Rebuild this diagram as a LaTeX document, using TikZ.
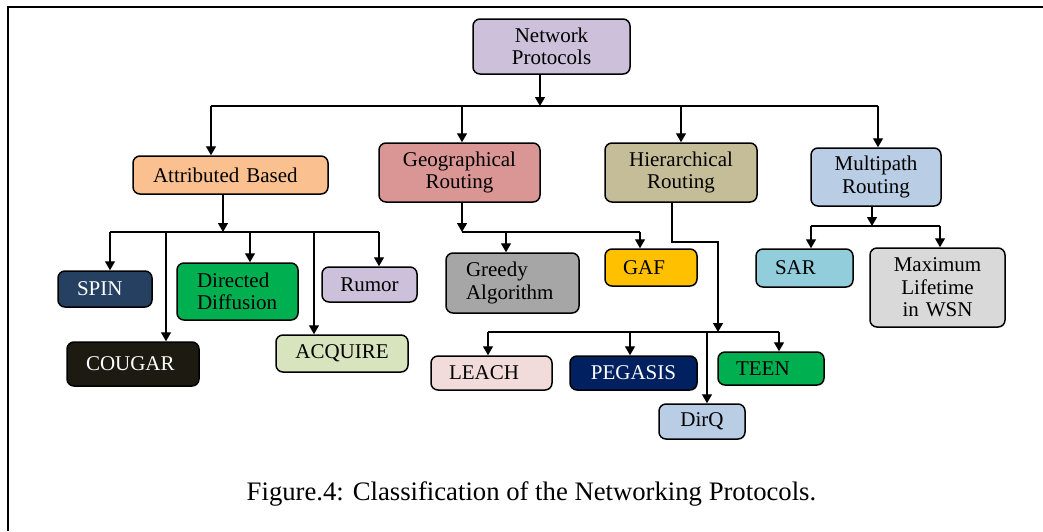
\documentclass[tikz,border=0pt]{standalone}
\usepackage{fontspec}
\setmainfont{Liberation Serif}
\usetikzlibrary{arrows.meta}
\newcommand{\boxfont}{\fontsize{21}{22.5}\selectfont}
\newcommand{\capfont}{\fontsize{26.7}{30}\selectfont}
\definecolor{cnet}{HTML}{CCC0DA}
\definecolor{cattr}{HTML}{FAC090}
\definecolor{cgeo}{HTML}{D99694}
\definecolor{chier}{HTML}{C4BD97}
\definecolor{cmulti}{HTML}{B9CDE5}
\definecolor{cspin}{HTML}{254061}
\definecolor{ccougar}{HTML}{1D1B11}
\definecolor{cgreen}{HTML}{00B050}
\definecolor{cacq}{HTML}{D7E4BD}
\definecolor{cgreedy}{HTML}{A6A6A6}
\definecolor{cgaf}{HTML}{FFC000}
\definecolor{csar}{HTML}{92CDDC}
\definecolor{cmax}{HTML}{D9D9D9}
\definecolor{cleach}{HTML}{F2DCDB}
\definecolor{cpeg}{HTML}{002060}
\begin{document}
\begin{tikzpicture}[x=1pt,y=-1pt,
  box/.style={draw, line width=1.5pt, rounded corners=7pt, font=\boxfont, inner ysep=0pt},
  ctr/.style={align=center, inner xsep=6pt},
  lft/.style={align=left},
  arr/.style={line width=1.4pt, -{Triangle[width=10pt,length=9pt]}},
  ln/.style={line width=1.4pt}]
\useasboundingbox (0,0) rectangle (1043,531);
\draw[line width=1.8pt] (1043,7) -- (8,7) -- (8,531);

% level 0
\node[box,ctr,fill=cnet,minimum width=157pt,minimum height=55pt,text width=145pt] (net) at (551.5,46.5) {Network\\Protocols};

% level 1
\node[box,lft,fill=cattr,minimum width=195pt,minimum height=38pt,inner xsep=20pt,text width=155pt] (attr) at (230.5,175) {Attributed Based};
\node[box,ctr,fill=cgeo,minimum width=161pt,minimum height=59pt,text width=149pt] (geo) at (459.5,172.5) {Geographical\\Routing};
\node[box,ctr,fill=chier,minimum width=152pt,minimum height=59pt,text width=140pt] (hier) at (681,172.5) {Hierarchical\\Routing};
\node[box,ctr,fill=cmulti,minimum width=130pt,minimum height=58pt,text width=118pt] (multi) at (876,177) {Multipath\\Routing};

% attributed children
\node[box,lft,fill=cspin,text=white,minimum width=94pt,minimum height=36pt,inner xsep=19pt,text width=56pt] (spin) at (105,289) {SPIN};
\node[box,lft,fill=ccougar,text=white,minimum width=132pt,minimum height=44pt,inner xsep=19pt,text width=94pt] (cougar) at (133,364) {COUGAR};
\node[box,lft,fill=cgreen,minimum width=121pt,minimum height=57pt,inner xsep=20pt,text width=81pt] (dd) at (237.5,291.5) {Directed\\Diffusion};
\node[box,ctr,fill=cnet,minimum width=95pt,minimum height=35pt,text width=83pt] (rumor) at (369.5,284.5) {Rumor};
\node[box,ctr,fill=cacq,minimum width=132pt,minimum height=37pt,text width=120pt] (acq) at (342,353.5) {ACQUIRE};

% geographical children
\node[box,lft,fill=cgreedy,minimum width=133pt,minimum height=60pt,inner xsep=20pt,text width=93pt] (greedy) at (512.5,283) {Greedy\\Algorithm};
\node[box,lft,fill=cgaf,minimum width=92pt,minimum height=37pt,inner xsep=18pt,text width=56pt] (gaf) at (651,267.5) {GAF};

% multipath children
\node[box,lft,fill=csar,minimum width=97pt,minimum height=38pt,inner xsep=19pt,text width=59pt] (sar) at (804.5,268) {SAR};
\node[box,ctr,fill=cmax,minimum width=135pt,minimum height=79pt,text width=123pt] (maxl) at (937.5,287.5) {Maximum\\Lifetime\\in WSN};

% hierarchical children
\node[box,lft,fill=cleach,minimum width=121pt,minimum height=34pt,inner xsep=18pt,text width=85pt] (leach) at (491.5,373) {LEACH};
\node[box,ctr,fill=cpeg,text=white,minimum width=127pt,minimum height=34pt,text width=115pt] (peg) at (633.5,373) {PEGASIS};
\node[box,lft,fill=cgreen,minimum width=106pt,minimum height=33pt,inner xsep=18pt,text width=70pt] (teen) at (771,368.5) {TEEN};
\node[box,ctr,fill=cmulti,minimum width=86pt,minimum height=35pt,text width=74pt] (dirq) at (702,421.5) {DirQ};

% caption
\node[font=\capfont,anchor=base,inner sep=0pt] (cap) at (531.5,500) {Figure.4: Classification of the Networking Protocols.};

% ---- connectors ----
% top bus
\coordinate (j0) at (540,106);
\coordinate (b0a) at (211,106);
\coordinate (b0b) at (462,106);
\coordinate (b0c) at (681,106);
\coordinate (b0d) at (878,106);
\draw[arr] (net.south -| j0) -- (j0);
\draw[ln] (b0a) -- (b0d);
\draw[arr] (b0a) -- (b0a |- attr.north);
\draw[arr] (b0b) -- (b0b |- geo.north);
\draw[arr] (b0c) -- (b0c |- hier.north);
\draw[arr] (b0d) -- (b0d |- multi.north);

% attributed bus
\coordinate (j1) at (223,232);
\coordinate (b1a) at (110,232);
\coordinate (b1b) at (166,232);
\coordinate (b1c) at (250,232);
\coordinate (b1d) at (314,232);
\coordinate (b1e) at (379,232);
\draw[arr] (attr.south -| j1) -- (j1);
\draw[ln] (b1a) -- (b1e);
\draw[arr] (b1a) -- (b1a |- spin.north);
\draw[arr] (b1b) -- (b1b |- cougar.north);
\draw[arr] (b1c) -- (b1c |- dd.north);
\draw[arr] (b1d) -- (b1d |- acq.north);
\draw[arr] (b1e) -- (b1e |- rumor.north);

% geographical bus
\coordinate (j2) at (462,232);
\coordinate (b2a) at (506,232);
\coordinate (b2b) at (640,232);
\draw[arr] (geo.south -| j2) -- (j2);
\draw[ln] (j2) -- (b2b);
\draw[arr] (b2a) -- (b2a |- greedy.north);
\draw[arr] (b2b) -- (b2b |- gaf.north);

% hierarchical bus
\coordinate (h1) at (672,242);
\coordinate (h2) at (718,242);
\coordinate (j3) at (718,332);
\coordinate (b3a) at (488,332);
\coordinate (b3b) at (630,332);
\coordinate (b3c) at (707,332);
\coordinate (b3d) at (779,332);
\draw[arr] (hier.south -| h1) -- (h1) -- (h2) -- (j3);
\draw[ln] (b3a) -- (b3d);
\draw[arr] (b3a) -- (b3a |- leach.north);
\draw[arr] (b3b) -- (b3b |- peg.north);
\draw[arr] (b3c) -- (b3c |- dirq.north);
\draw[arr] (b3d) -- (b3d |- teen.north);

% multipath bus
\coordinate (j4) at (872,226);
\coordinate (b4a) at (811,226);
\coordinate (b4b) at (940,226);
\draw[arr] (multi.south -| j4) -- (j4);
\draw[ln] (b4a) -- (b4b);
\draw[arr] (b4a) -- (b4a |- sar.north);
\draw[arr] (b4b) -- (b4b |- maxl.north);
\end{tikzpicture}
\end{document}
